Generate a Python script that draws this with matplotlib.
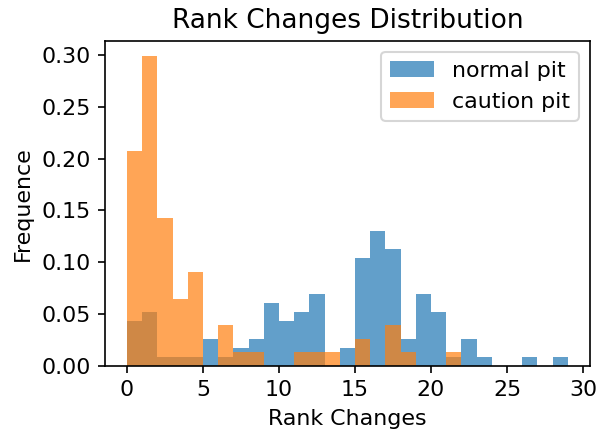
import numpy as np
import matplotlib
matplotlib.use("Agg")
from matplotlib import pyplot as plt

# counts per unit bin (bin i covers [i, i+1))
normal_counts = [5, 6, 1, 1, 1, 3, 1, 2, 3, 7, 5, 6, 8, 0, 2,
                 12, 15, 13, 3, 8, 6, 1, 3, 1, 0, 0, 1, 0, 1]
caution_counts = [16, 23, 11, 5, 7, 0, 3, 1, 1, 0, 0, 1, 1, 1, 0,
                  2, 0, 3, 1, 0, 0, 1]

normal_data = np.repeat(np.arange(len(normal_counts)), normal_counts)
caution_data = np.repeat(np.arange(len(caution_counts)), caution_counts)

# text in the reference is a touch larger than the defaults
plt.rcParams["font.size"] = 10.6
plt.rcParams["axes.titlesize"] = 12.7

fig = plt.figure(figsize=(4.0, 436 / 150))
ax = fig.add_axes([0.175, 0.161, 0.808, 0.745])

ax.hist(normal_data, bins=np.arange(len(normal_counts) + 1), density=True,
        alpha=0.7, label="normal pit")
ax.hist(caution_data, bins=np.arange(len(caution_counts) + 1), density=True,
        alpha=0.7, label="caution pit")

ax.set_title("Rank Changes Distribution")
ax.set_xlabel("Rank Changes")
ax.set_ylabel("Frequence")
ax.legend(loc="upper right")

fig.savefig("out.png", dpi=150)
